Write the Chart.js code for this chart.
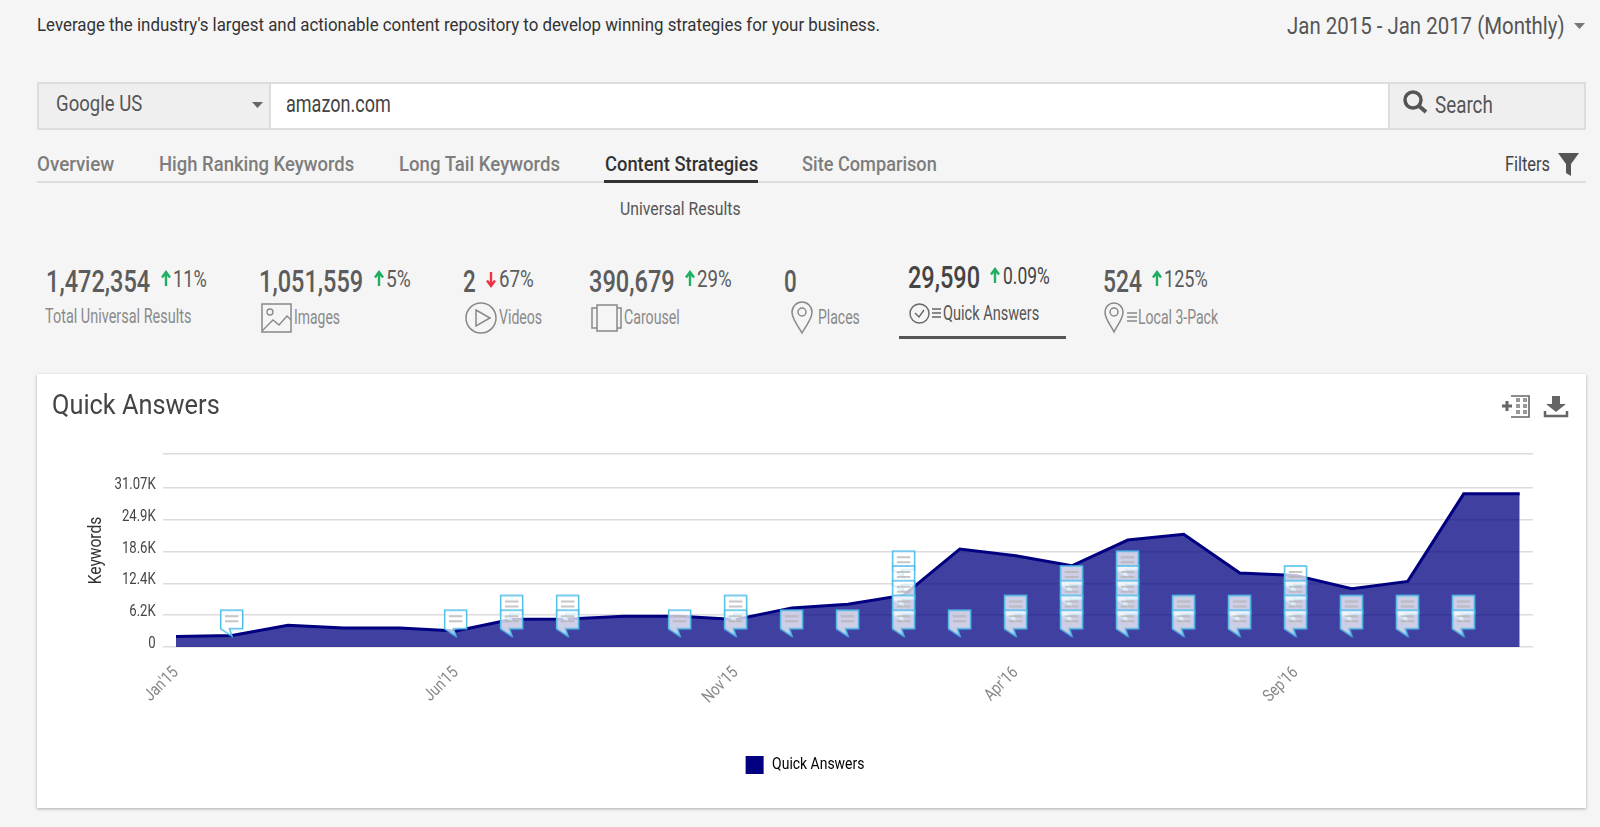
<!DOCTYPE html>
<html>
<head>
<meta charset="utf-8">
<title>Quick Answers</title>
<script src="https://cdn.jsdelivr.net/npm/chart.js@4/dist/chart.umd.min.js"></script>
<style>
  html, body { margin: 0; padding: 0; background: #f5f5f5; }
  body { width: 1600px; height: 827px; position: relative; overflow: hidden; font-family: Roboto, sans-serif; color: #444; }
  .t { position: absolute; white-space: nowrap; transform-origin: left center; }
  .box { position: absolute; box-sizing: border-box; }
  .num { font-size: 31px; font-weight: 500; color: #5c5c5c; }
  .pct { font-size: 23px; color: #5c5c5c; }
  .lab { font-size: 20px; color: #8a8a8a; }
  .tab { font-size: 21px; font-weight: 500; color: #7d7d7d; }
  svg { position: absolute; overflow: visible; fill: none; }
  #card { position: absolute; left: 37px; top: 374px; width: 1549px; height: 434px; background: #fff; box-shadow: 0 1px 3px rgba(0,0,0,.3); }
  #chart { display: block; }
</style>
</head>
<body>
<span class="t" data-w="843" style="left:37px;top:24px;font-size:19px;color:#333">Leverage the industry's largest and actionable content repository to develop winning strategies for your business.</span>
<span class="t" data-w="278" style="left:1287px;top:26px;font-size:23px;color:#555">Jan 2015 - Jan 2017 (Monthly)</span>
<svg style="left:1574px;top:23px" width="12" height="8"><path d="M0 0H11L5.5 6Z" fill="#777"/></svg>

<div class="box" style="left:37px;top:82px;width:1549px;height:48px;background:#fff;border:2px solid #ddd"></div>
<div class="box" style="left:37px;top:82px;width:234px;height:48px;background:#efefef;border:2px solid #ddd"></div>
<div class="box" style="left:1388px;top:82px;width:198px;height:48px;background:#efefef;border:2px solid #ddd"></div>
<span class="t" data-w="86" style="left:56px;top:103px;font-size:22px;color:#555">Google US</span>
<svg style="left:252px;top:102px" width="12" height="8"><path d="M0 0H11L5.5 6Z" fill="#666"/></svg>
<span class="t" data-w="105" style="left:286px;top:104px;font-size:23px;color:#444">amazon.com</span>
<svg style="left:1403px;top:90px" width="25" height="24"><circle cx="10" cy="10" r="8" stroke="#555" stroke-width="3.5"/><path d="M16 16L23 22" stroke="#555" stroke-width="4"/></svg>
<span class="t" data-w="58" style="left:1435px;top:105px;font-size:24px;color:#555">Search</span>

<div class="box" style="left:37px;top:181px;width:1549px;height:2px;background:#ddd"></div>
<div class="box" style="left:604px;top:180px;width:154px;height:3px;background:#333"></div>
<span class="t tab" data-w="77" style="left:37px;top:164px">Overview</span>
<span class="t tab" data-w="195" style="left:159px;top:164px">High Ranking Keywords</span>
<span class="t tab" data-w="161" style="left:399px;top:164px">Long Tail Keywords</span>
<span class="t tab" data-w="153" style="left:605px;top:164px;color:#333">Content Strategies</span>
<span class="t tab" data-w="135" style="left:802px;top:164px">Site Comparison</span>
<span class="t" data-w="45" style="left:1505px;top:164px;font-size:20px;color:#444">Filters</span>
<svg style="left:1558px;top:153px" width="22" height="24"><path d="M0 0H21L13 11V23L8 20V11Z" fill="#555"/></svg>
<span class="t" data-w="121" style="left:620px;top:208px;font-size:18px;color:#555">Universal Results</span>

<svg width="0" height="0"><defs>
  <g id="arrow"><path d="M5 15V3M1 6.5L5 1L9 6.5" stroke-width="2.4"/></g>
</defs></svg>

<span class="t num" data-w="104" style="left:46px;top:281px">1,472,354</span>
<svg style="left:161px;top:271px" width="10" height="16" stroke="#1fae62"><use href="#arrow"/></svg>
<span class="t pct" data-w="34" style="left:173px;top:279px">11%</span>
<span class="t lab" data-w="146" style="left:45px;top:316px">Total Universal Results</span>

<span class="t num" data-w="104" style="left:259px;top:281px">1,051,559</span>
<svg style="left:374px;top:271px" width="10" height="16" stroke="#1fae62"><use href="#arrow"/></svg>
<span class="t pct" data-w="25" style="left:386px;top:279px">5%</span>
<svg style="left:261px;top:303px" width="31" height="30"><rect x="1" y="1" width="29" height="28" stroke="#888" stroke-width="1.5"/><circle cx="9" cy="9" r="3" stroke="#888" stroke-width="1.3"/><path d="M1 28L12 17L18 22L26 13L30 17" stroke="#888" stroke-width="1.3"/></svg>
<span class="t lab" data-w="46" style="left:294px;top:317px">Images</span>

<span class="t num" data-w="13" style="left:463px;top:281px">2</span>
<svg style="left:486px;top:271px" width="10" height="16" stroke="#ee3344"><use href="#arrow" transform="rotate(180 5 8)"/></svg>
<span class="t pct" data-w="35" style="left:499px;top:279px">67%</span>
<svg style="left:465px;top:302px" width="32" height="32"><circle cx="16" cy="16" r="15" stroke="#888" stroke-width="1.5"/><path d="M11 8L25 16L11 24Z" stroke="#888" stroke-width="1.5"/></svg>
<span class="t lab" data-w="43" style="left:499px;top:317px">Videos</span>

<span class="t num" data-w="86" style="left:589px;top:281px">390,679</span>
<svg style="left:685px;top:271px" width="10" height="16" stroke="#1fae62"><use href="#arrow"/></svg>
<span class="t pct" data-w="35" style="left:697px;top:279px">29%</span>
<svg style="left:591px;top:304px" width="31" height="28"><rect x="6" y="1" width="20" height="26" stroke="#888" stroke-width="1.5"/><path d="M6 4H1V24H6M26 4H30V24H26" stroke="#888" stroke-width="1.5"/></svg>
<span class="t lab" data-w="56" style="left:624px;top:317px">Carousel</span>

<span class="t num" data-w="13" style="left:784px;top:281px">0</span>
<svg style="left:791px;top:301px" width="22" height="33"><path d="M11 32C6 23 1 18 1 11A10 10 0 0 1 21 11C21 18 16 23 11 32Z" stroke="#888" stroke-width="1.5"/><circle cx="11" cy="11" r="4" stroke="#888" stroke-width="1.5"/></svg>
<span class="t lab" data-w="42" style="left:818px;top:317px">Places</span>

<span class="t num" data-w="72" style="left:908px;top:277px;color:#444">29,590</span>
<svg style="left:990px;top:268px" width="10" height="16" stroke="#1fae62"><use href="#arrow"/></svg>
<span class="t pct" data-w="47" style="left:1003px;top:276px;color:#444">0.09%</span>
<svg style="left:909px;top:303px" width="32" height="21"><circle cx="10.5" cy="10.5" r="9.5" stroke="#666" stroke-width="1.4"/><path d="M6 10L10 14L15 7" stroke="#666" stroke-width="1.4"/><path d="M23 6H32M23 10H32M23 14H32" stroke="#666" stroke-width="1.4"/></svg>
<span class="t lab" data-w="96" style="left:943px;top:313px;color:#555">Quick Answers</span>
<div class="box" style="left:899px;top:336px;width:167px;height:3px;background:#555"></div>

<span class="t num" data-w="39" style="left:1103px;top:281px">524</span>
<svg style="left:1152px;top:271px" width="10" height="16" stroke="#1fae62"><use href="#arrow"/></svg>
<span class="t pct" data-w="44" style="left:1164px;top:279px">125%</span>
<svg style="left:1104px;top:302px" width="33" height="31"><path d="M10 30C6 22 1 17 1 10A9 9 0 0 1 19 10C19 17 14 22 10 30Z" stroke="#888" stroke-width="1.5"/><circle cx="10" cy="10" r="4" stroke="#888" stroke-width="1.5"/><path d="M23 11H33M23 15H33M23 19H33" stroke="#888" stroke-width="1.4"/></svg>
<span class="t lab" data-w="80" style="left:1138px;top:317px">Local 3-Pack</span>

<div id="card"><canvas id="chart" width="1549" height="434"></canvas></div>
<span class="t" data-w="168" style="left:52px;top:405px;font-size:27px;color:#444">Quick Answers</span>
<svg style="left:1502px;top:395px" width="28" height="23"><path d="M0 11H10M5 6V16" stroke="#666" stroke-width="3"/><path d="M9 1H27V22H9" stroke="#666" stroke-width="1.6"/><path d="M14 5H18M21 5H25M14 11H18M21 11H25M14 17H18M21 17H25" stroke="#999" stroke-width="4"/></svg>
<svg style="left:1544px;top:396px" width="24" height="21"><path d="M8 0H16V8H22L12 16L2 8H8Z" fill="#666"/><path d="M1 15V20H23V15" stroke="#666" stroke-width="2.5"/></svg>

<script>
const months = [
  "Jan'15", "Feb'15", "Mar'15", "Apr'15", "May'15", "Jun'15", "Jul'15", "Aug'15", "Sep'15",
  "Oct'15", "Nov'15", "Dec'15", "Jan'16", "Feb'16", "Mar'16", "Apr'16", "May'16", "Jun'16",
  "Jul'16", "Aug'16", "Sep'16", "Oct'16", "Nov'16", "Dec'16", "Jan'17",
];
const quickAnswers = [
  2040, 2230, 4260, 3730, 3730, 3140, 5430, 5490, 6020, 6030, 5370, 7650, 8370,
  10130, 19150, 17850, 15890, 20920, 22040, 14460, 14000, 11380, 12830, 29950, 29980,
];
// number of note flags stacked on each month
const flagCounts = [0, 1, 0, 0, 0, 1, 2, 2, 0, 1, 2, 1, 1, 5, 1, 2, 4, 5, 2, 2, 4, 2, 2, 2, 0];
const yTickValues = [0, 6214, 12428, 18642, 24856, 31070, 37740];
const yTickLabels = ['0', '6.2K', '12.4K', '18.6K', '24.9K', '31.07K', ''];
const xTickEvery = 5;

const FONT = 'Roboto, sans-serif';
const FLAG_BASE = 5433;
const FLAG_STEP = 2884;
const TEXT_SQUEEZE = 0.82;

// the page font is a condensed one, squeeze Roboto to the measured widths
function fitTexts() {
  document.querySelectorAll('.t').forEach((el) => {
    const scale = Number(el.dataset.w) / el.offsetWidth;
    el.style.transform = `translateY(-50%) scaleX(${scale})`;
  });
}

function squeezeCanvasText(ctx) {
  const fillText = ctx.fillText.bind(ctx);
  const measureText = ctx.measureText.bind(ctx);
  ctx.fillText = (text, x, y) => {
    ctx.save();
    ctx.translate(x, 0);
    ctx.scale(TEXT_SQUEEZE, 1);
    fillText(text, 0, y);
    ctx.restore();
  };
  ctx.measureText = (text) => ({ width: measureText(text).width * TEXT_SQUEEZE });
}

function buildFlagIcon() {
  const icon = document.createElement('canvas');
  icon.width = 26;
  icon.height = 38;
  const ctx = icon.getContext('2d');
  ctx.beginPath();
  ctx.moveTo(1.7, 10);
  ctx.lineTo(23.7, 10);
  ctx.lineTo(23.7, 28.5);
  ctx.lineTo(10.5, 28.5);
  ctx.lineTo(13, 36);
  ctx.lineTo(1.7, 28.5);
  ctx.closePath();
  ctx.fillStyle = 'rgba(255,255,255,0.74)';
  ctx.fill();
  ctx.strokeStyle = '#4fbde9';
  ctx.lineWidth = 1.5;
  ctx.stroke();
  ctx.strokeStyle = '#b4b4b4';
  ctx.lineWidth = 1.3;
  ctx.beginPath();
  ctx.moveTo(6, 16);
  ctx.lineTo(19.5, 16);
  ctx.moveTo(6, 21);
  ctx.lineTo(19.5, 21);
  ctx.stroke();
  return icon;
}

function buildFlagPoints() {
  const points = [];
  flagCounts.forEach((count, index) => {
    for (let row = count - 1; row >= 0; row -= 1) {
      points.push({ x: index, y: FLAG_BASE + row * FLAG_STEP });
    }
  });
  return points;
}

fitTexts();

const canvas = document.getElementById('chart');
squeezeCanvasText(canvas.getContext('2d'));

new Chart(canvas, {
  type: 'line',
  data: {
    datasets: [
      {
        label: 'Quick Answers',
        data: quickAnswers.map((value, index) => ({ x: index, y: value })),
        borderColor: '#000080',
        borderWidth: 3,
        backgroundColor: 'rgba(0,0,128,0.75)',
        fill: 'origin',
        tension: 0,
        pointRadius: 0,
        order: 2,
      },
      {
        label: 'Flags',
        data: buildFlagPoints(),
        showLine: false,
        pointStyle: buildFlagIcon(),
        order: 1,
      },
    ],
  },
  options: {
    responsive: false,
    animation: false,
    layout: { padding: { left: 40, right: 53, top: 80, bottom: 24 } },
    plugins: {
      tooltip: { enabled: false },
      legend: {
        position: 'bottom',
        labels: {
          boxWidth: 18,
          boxHeight: 18,
          padding: 10,
          color: '#444',
          font: { family: FONT, size: 17 },
          filter: (item) => item.text !== 'Flags',
          generateLabels: (chart) => chart.data.datasets.map((dataset, i) => ({
            text: dataset.label,
            fillStyle: '#000080',
            strokeStyle: '#000080',
            lineWidth: 0,
            datasetIndex: i,
          })),
        },
      },
    },
    scales: {
      x: {
        type: 'linear',
        min: -0.2375,
        max: 24.2375,
        afterBuildTicks: (scale) => {
          scale.ticks = months
            .map((_, index) => ({ value: index }))
            .filter((tick) => tick.value % xTickEvery === 0 && tick.value < 24);
        },
        afterFit: (scale) => { scale.height = 99; },
        grid: { display: false },
        border: { display: false },
        ticks: {
          autoSkip: false,
          maxRotation: 45,
          minRotation: 45,
          padding: 8,
          color: '#888',
          font: { family: FONT, size: 17 },
          callback: (value) => months[value],
        },
      },
      y: {
        min: 0,
        max: 37740,
        afterBuildTicks: (scale) => {
          scale.ticks = yTickValues.map((value) => ({ value }));
        },
        afterFit: (scale) => { scale.width = 85.7; },
        grid: { color: '#dcdcdc', lineWidth: 1.6, drawTicks: false },
        border: { display: false },
        title: {
          display: true,
          text: 'Keywords',
          color: '#333',
          font: { family: FONT, size: 19 },
          padding: { top: 8, bottom: 0 },
        },
        ticks: {
          padding: 7,
          labelOffset: -3,
          color: '#444',
          font: { family: FONT, size: 16 },
          callback: (value) => yTickLabels[yTickValues.indexOf(value)],
        },
      },
    },
  },
});
</script>
</body>
</html>
